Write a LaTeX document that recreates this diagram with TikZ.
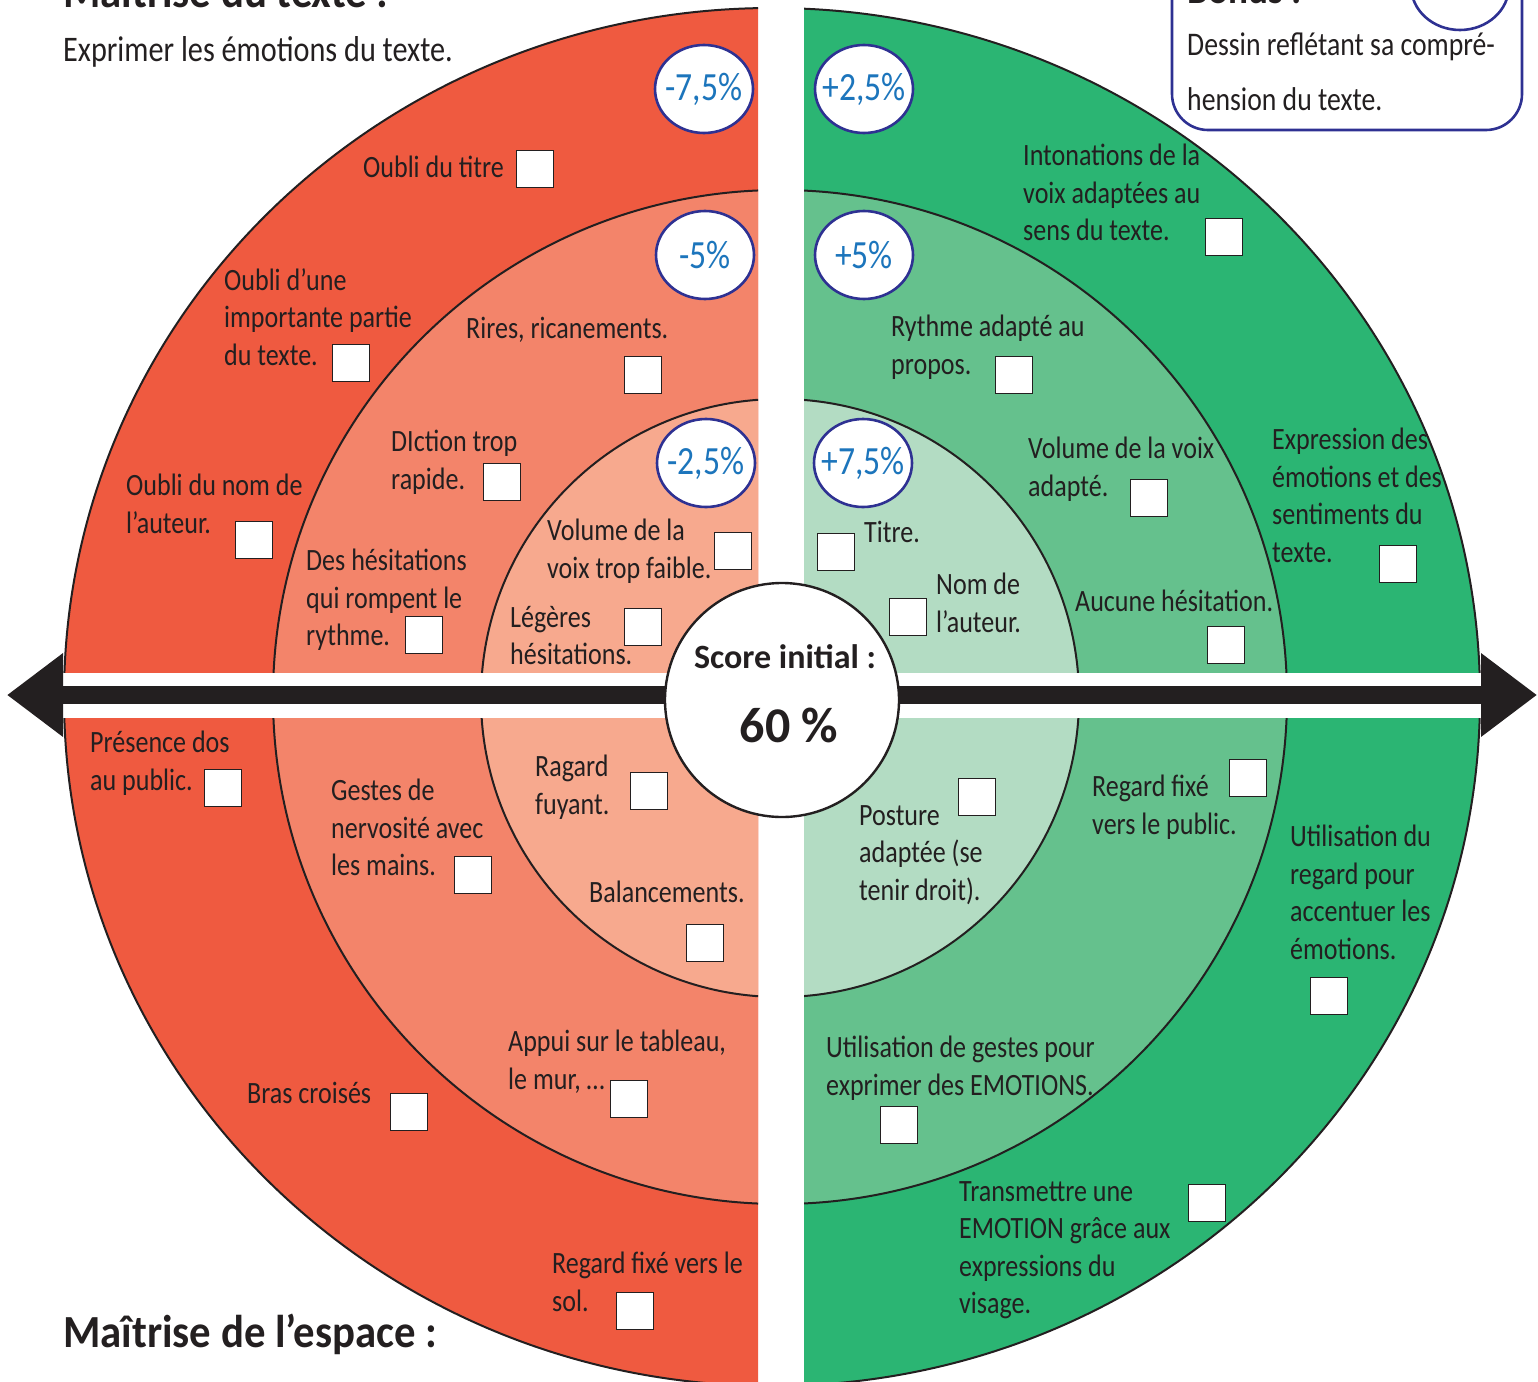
\documentclass[tikz,border=0pt]{standalone}
\usepackage{fontspec}
\setmainfont{Carlito}[FakeStretch=0.84,BoldFeatures={FakeStretch=1}]
\newfontfamily\headfont{Carlito}[FakeStretch=0.93]
\usetikzlibrary{arrows.meta,shapes.geometric}
\definecolor{ink}{HTML}{231F20}
\definecolor{redout}{HTML}{EF5A40}
\definecolor{redmid}{HTML}{F3846A}
\definecolor{redin}{HTML}{F7A98E}
\definecolor{greenout}{HTML}{2BB573}
\definecolor{greenmid}{HTML}{65C18D}
\definecolor{greenin}{HTML}{B3DCC3}
\definecolor{ringblue}{HTML}{2E3192}
\definecolor{pctblue}{HTML}{1C75BC}
\newcommand\pctlbl[1]{\makebox[0pt]{#1}}
\tikzset{chk/.style={draw=ink, fill=white, line width=1.2pt, minimum size=37pt, inner sep=0pt}}
\tikzset{pct/.style={ellipse, draw=ringblue, line width=2.6pt, fill=white, minimum width=98pt, minimum height=88pt, inner sep=0pt, text=pctblue, font=\fontsize{40}{44}\selectfont}}
\tikzset{crit/.style={anchor=north west, align=left, inner sep=0pt, text=ink, yshift=-3pt, font=\fontsize{31}{37.5}\selectfont}}
\tikzset{ring/.style={draw=ink, line width=2pt}}

\begin{document}
\begin{tikzpicture}[x=1pt, y=-1pt,
  axis/.style={draw=ink, line width=18pt, {Triangle[length=56pt,width=80pt]}-{Triangle[length=56pt,width=80pt]}},
  head/.style={anchor=base west, inner sep=0pt, text=ink, font=\headfont\bfseries\fontsize{46}{52}\selectfont},
  sub/.style={anchor=base west, inner sep=0pt, text=ink, font=\fontsize{36}{40}\selectfont},
  score/.style={circle, draw=ink, line width=2.4pt, fill=white, minimum size=234pt, inner sep=0pt},
]
  \useasboundingbox (0,0) rectangle (1538,1381);

  % Left half
  \begin{scope}
    \clip (0,-60) rectangle (758,1400);
    \fill[redout] (772,697) ellipse [x radius=708, y radius=689];
    \draw[ring] (772,697) ellipse [x radius=708, y radius=689];
    \filldraw[ring, fill=redmid] (780,697) circle [radius=507];
    \filldraw[ring, fill=redin] (780,698) circle [radius=299];
  \end{scope}

  % Right half
  \begin{scope}
    \clip (804,-60) rectangle (1600,1400);
    \fill[greenout] (772,697) ellipse [x radius=708, y radius=689];
    \draw[ring] (772,697) ellipse [x radius=708, y radius=689];
    \filldraw[ring, fill=greenmid] (780,697) circle [radius=507];
    \filldraw[ring, fill=greenin] (780,698) circle [radius=299];
  \end{scope}

  \fill[white] (63,673) rectangle (1482,718);
  \coordinate (axW) at (7,695);
  \coordinate (axE) at (1537,695);
  \draw[axis] (axW) -- (axE);

  \node[score] (sc) at (782,700) {};
  \node[inner sep=0pt, text=ink, font=\bfseries\fontsize{34}{40}\selectfont] (scLbl) at (785,657) {Score initial :};
  \node[inner sep=0pt, text=ink, font=\bfseries\fontsize{50}{56}\selectfont] (scVal) at (789,725) {60 \%};

  % Titles
  \node[head] (hText) at (63,8) {Maîtrise du texte :};
  \node[sub] (sText) at (63,62) {Exprimer les émotions du texte.};
  \node[head] (hSpace) at (63,1347) {Maîtrise de l’espace :};

  \draw[ringblue, line width=2.6pt, rounded corners=36pt] (1172,-40) rectangle (1522,130);
  \node[pct] (bonusMark) at (1460,-14) {};
  \node[head, font=\headfont\bfseries\fontsize{40}{44}\selectfont] (bonusHead) at (1187,4) {Bonus :};
  \node[crit, font=\fontsize{33}{55}\selectfont] (bonusTxt) at (1187,30) {Dessin reflétant sa compré-\\hension du texte.};

  % Percentages
  \node[pct] (m75) at (704,89) {\pctlbl{-7,5\%}};
  \node[pct] (m5) at (705,255) {\pctlbl{-5\%}};
  \node[pct] (m25) at (706,463) {\pctlbl{-2,5\%}};
  \node[pct] (p25) at (864,89) {\pctlbl{+2,5\%}};
  \node[pct] (p5) at (864,255) {\pctlbl{+5\%}};
  \node[pct] (p75) at (863,463) {\pctlbl{+7,5\%}};

  % Top left
  \node[crit] (tl1) at (363,153) {Oubli du titre};
  \node[chk] (tl1b) at (535,169) {};
  \node[crit] (tl2) at (224,265) {Oubli d’une\\importante partie\\du texte.};
  \node[chk] (tl2b) at (351,363) {};
  \node[crit] (tl3) at (126,471) {Oubli du nom de\\l’auteur.};
  \node[chk] (tl3b) at (254,540) {};
  \node[crit] (tl4) at (466,314) {Rires, ricanements.};
  \node[chk] (tl4b) at (643,375) {};
  \node[crit] (tl5) at (391,427) {DIction trop\\rapide.};
  \node[chk] (tl5b) at (502,482) {};
  \node[crit] (tl6) at (306,546) {Des hésitations\\qui rompent le\\rythme.};
  \node[chk] (tl6b) at (424,635) {};
  \node[crit] (tl7) at (547,516) {Volume de la\\voix trop faible.};
  \node[chk] (tl7b) at (733,551) {};
  \node[crit] (tl8) at (510,603) {Légères\\hésitations.};
  \node[chk] (tl8b) at (643,627) {};

  % Top right
  \node[crit] (tr1) at (1023,141) {Intonations de la\\voix adaptées au\\sens du texte.};
  \node[chk] (tr1b) at (1224,237) {};
  \node[crit] (tr2) at (891,312) {Rythme adapté au\\propos.};
  \node[chk] (tr2b) at (1014,375) {};
  \node[crit] (tr3) at (1028,434) {Volume de la voix\\adapté.};
  \node[chk] (tr3b) at (1149,498) {};
  \node[crit] (tr4) at (1272,425) {Expression des\\émotions et des\\sentiments du\\texte.};
  \node[chk] (tr4b) at (1398,564) {};
  \node[crit] (tr5) at (864,518) {Titre.};
  \node[chk] (tr5b) at (836,552) {};
  \node[crit] (tr6) at (936,570) {Nom de\\l’auteur.};
  \node[chk] (tr6b) at (908,617) {};
  \node[crit] (tr7) at (1075,587) {Aucune hésitation.};
  \node[chk] (tr7b) at (1226,645) {};

  % Bottom left
  \node[crit] (bl1) at (90,728) {Présence dos\\au public.};
  \node[chk] (bl1b) at (223,788) {};
  \node[crit] (bl2) at (331,776) {Gestes de\\nervosité avec\\les mains.};
  \node[chk] (bl2b) at (473,875) {};
  \node[crit] (bl3) at (535,752) {Ragard\\fuyant.};
  \node[chk] (bl3b) at (649,791) {};
  \node[crit] (bl4) at (589,878) {Balancements.};
  \node[chk] (bl4b) at (705,943) {};
  \node[crit] (bl5) at (508,1027) {Appui sur le tableau,\\le mur, …};
  \node[chk] (bl5b) at (629,1099) {};
  \node[crit] (bl6) at (247,1079) {Bras croisés};
  \node[chk] (bl6b) at (409,1112) {};
  \node[crit] (bl7) at (552,1249) {Regard fixé vers le\\sol.};
  \node[chk] (bl7b) at (635,1311) {};

  % Bottom right
  \node[crit] (br1) at (859,802) {Posture\\adaptée (se\\tenir droit).};
  \node[chk] (br1b) at (977,797) {};
  \node[crit] (br2) at (1092,772) {Regard fixé\\vers le public.};
  \node[chk] (br2b) at (1248,778) {};
  \node[crit] (br3) at (1290,822) {Utilisation du\\regard pour\\accentuer les\\émotions.};
  \node[chk] (br3b) at (1329,996) {};
  \node[crit] (br4) at (826,1033) {Utilisation de gestes pour\\exprimer des EMOTIONS.};
  \node[chk] (br4b) at (899,1125) {};
  \node[crit] (br5) at (959,1178) {Transmettre une\\EMOTION grâce aux\\expressions du\\visage.};
  \node[chk] (br5b) at (1207,1203) {};
\end{tikzpicture}
\end{document}
